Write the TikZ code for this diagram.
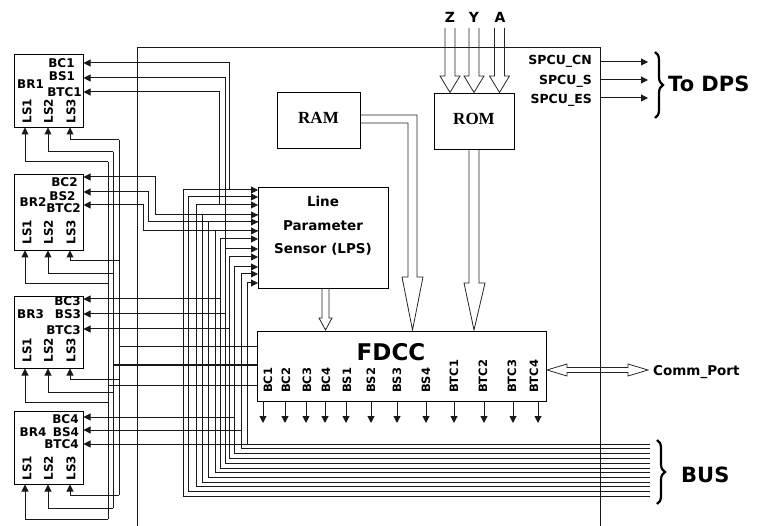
\documentclass[tikz,border=0pt]{standalone}
\usepackage{fontspec}
\setmainfont{DejaVu Sans}
\newfontfamily\serifb{Liberation Serif}
\usetikzlibrary{arrows.meta,decorations.pathreplacing}
\begin{document}
\begin{tikzpicture}[x=1pt,y=-1pt,
  w/.style={line width=1pt, draw=black!90},
  ar/.style={w, -{Triangle[length=7pt,width=7pt]}},
  box/.style={draw=black, line width=1.1pt, anchor=north west, inner sep=0pt},
  lab/.style={font=\bfseries\fontsize{12}{12}\selectfont, inner sep=0pt},
  rlab/.style={font=\bfseries\fontsize{11.5}{11.5}\selectfont, inner sep=0pt, rotate=90},
  hol/.style={draw=black!85, line width=0.8pt, line join=miter},
  brc/.style={decorate, decoration={brace, amplitude=8pt}, line width=2.2pt}
]
\useasboundingbox (0,0) rectangle (760,526);

% enclosure
\draw[w] (137,526) -- (137,48) -- (600,48) -- (600,526);

% BR boxes
\node[box, minimum width=69pt, minimum height=73pt] (br1) at (14,54) {};
\node[box, minimum width=69pt, minimum height=76pt] (br2) at (14,174) {};
\node[box, minimum width=69pt, minimum height=72pt] (br3) at (14,296) {};
\node[box, minimum width=69pt, minimum height=73pt] (br4) at (14,411) {};

% BR labels
\node[lab] at (61.5,63) {BC1};
\node[lab] at (62,76) {BS1};
\node[lab] at (64.5,92) {BTC1};
\node[lab] at (30.5,84) {BR1};
\node[lab] at (64.5,182) {BC2};
\node[lab] at (62.5,196) {BS2};
\node[lab] at (63.5,208) {BTC2};
\node[lab] at (33,202) {BR2};
\node[lab] at (67.5,301) {BC3};
\node[lab] at (68,314) {BS3};
\node[lab] at (63.5,330) {BTC3};
\node[lab] at (30.5,314) {BR3};
\node[lab] at (65.5,419) {BC4};
\node[lab] at (66,432) {BS4};
\node[lab] at (61.5,444.5) {BTC4};
\node[lab] at (33,432) {BR4};
\foreach \yy in {111,232,350,468}{
  \node[lab, rotate=90] at (27,\yy) {LS1};
  \node[lab, rotate=90] at (48.5,\yy) {LS2};
  \node[lab, rotate=90] at (71,\yy) {LS3};
}

% LS feedback lines
\draw[w] (108,162) -- (108,519);
\draw[w] (113,152) -- (113,508);
\draw[w] (119,140) -- (119,495);
\foreach \bot/\a/\b/\c in {127/140/152/162, 250/261/274/284, 368/379/392/402, 484/495/508/519}{
  \draw[ar] (119,\a) -- (70,\a) -- (70,\bot+0.5);
  \draw[ar] (113,\b) -- (48,\b) -- (48,\bot+0.5);
  \draw[ar] (108,\c) -- (25,\c) -- (25,\bot+0.5);
}

% LPS
\node[box, minimum width=130pt, minimum height=101pt] (lps) at (258,187) {};
\node[align=center, inner sep=0pt, font=\bfseries\fontsize{13.5}{23.5}\selectfont] at (323,226) {Line\\Parameter\\Sensor (LPS)};

% FDCC
\node[box, minimum width=289pt, minimum height=70pt] (fdcc) at (257,331) {};
\node[inner sep=0pt, font=\bfseries\fontsize{23}{23}\selectfont] at (391,352) {FDCC};
\foreach \xx/\tt in {268/BC1,286/BC2,307/BC3,326/BC4,347/BS1,371/BS2,397/BS3,426/BS4,454/BTC1,483/BTC2,512/BTC3,534/BTC4}{
  \node[rlab, anchor=west] at (\xx,393) {\tt};
}
\foreach \xx in {263,285,306,325,346,371,397,426,454,484,513,538}{
  \draw[ar] (\xx,401) -- (\xx,423);
}
\draw[w] (119,347) -- (257,347);
\draw[w] (113,365) -- (257,365);
\draw[w] (108,385) -- (257,385);

% bus lines
\foreach \xx/\yb/\yl in {183/496/190,188/491/197,196/486/205,202/482/215,208/477/222,215/472/231,220/468/239,225/463/249,229/458/257,234/453/267,241/448/274,247/444/283}{
  \draw[w] (650,\yb) -- (\xx,\yb) -- (\xx,\yl);
  \draw[ar] (\xx,\yl) -- (258,\yl);
}

% BR1 signals
\draw[ar] (229,190) -- (229,63) -- (83.5,63);
\draw[ar] (225,249) -- (225,78) -- (83.5,78);
\draw[ar] (219,205) -- (219,92) -- (83.5,92);
% BR2 signals
\draw[ar] (258,215) -- (155,215) -- (155,177) -- (83.5,177);
\draw[ar] (258,222) -- (148,222) -- (148,192) -- (83.5,192);
\draw[ar] (258,231) -- (143,231) -- (143,205) -- (83.5,205);
% BR3 signals
\draw[ar] (220,299) -- (83.5,299);
\draw[ar] (225,314) -- (83.5,314);
\draw[ar] (229,329) -- (83.5,329);
% BR4 signals
\draw[ar] (234,417) -- (83.5,417);
\draw[ar] (241,430) -- (83.5,430);
\draw[ar] (247,444) -- (83.5,444);

% RAM / ROM
\node[box, minimum width=83pt, minimum height=56pt] (ram) at (277,92) {};
\node[inner sep=0pt, font=\serifb\bfseries\fontsize{17}{17}\selectfont] at (318.5,118) {RAM};
\node[box, minimum width=80pt, minimum height=56pt] (rom) at (434,93) {};
\node[inner sep=0pt, font=\serifb\bfseries\fontsize{17}{17}\selectfont] at (474,119) {ROM};

% hollow arrows
\draw[hol] (360,115) -- (417,115) -- (417,277) -- (423,277) -- (412.5,330) -- (402,277) -- (408,277) -- (408,123) -- (360,123);
\draw[hol] (469,149) -- (469,283) -- (464,283) -- (474,330) -- (485,283) -- (479,283) -- (479,149);
\draw[hol] (322,288) -- (322,318) -- (319,318) -- (325.5,330) -- (332,318) -- (329,318) -- (329,288);
\foreach \xx in {450,474,499.5}{
  \draw[hol] (\xx-5,28) -- (\xx-5,76) -- (\xx-10,76) -- (\xx,92.5) -- (\xx+10,76) -- (\xx+5,76) -- (\xx+5,28);
}
\node[inner sep=0pt, font=\bfseries\fontsize{14}{14}\selectfont] at (450,17) {Z};
\node[inner sep=0pt, font=\bfseries\fontsize{14}{14}\selectfont] at (474,17) {Y};
\node[inner sep=0pt, font=\bfseries\fontsize{14}{14}\selectfont] at (500,17) {A};

% Comm port
\draw[hol] (547,370) -- (567,364) -- (567,367.5) -- (628,367.5) -- (628,364) -- (648,370) -- (628,376) -- (628,372.5) -- (567,372.5) -- (567,376) -- cycle;
\node[inner sep=0pt, anchor=west, font=\bfseries\fontsize{13.5}{13.5}\selectfont] at (653,372) {Comm\_Port};

% SPCU outputs
\node[inner sep=0pt, anchor=east, font=\bfseries\fontsize{12.5}{12.5}\selectfont] at (592,61) {SPCU\_CN};
\node[inner sep=0pt, anchor=east, font=\bfseries\fontsize{12.5}{12.5}\selectfont] at (592,81) {SPCU\_S};
\node[inner sep=0pt, anchor=east, font=\bfseries\fontsize{12.5}{12.5}\selectfont] at (592,100) {SPCU\_ES};
\draw[ar] (600,62) -- (648,62);
\draw[ar] (600,80) -- (648,80);
\draw[ar] (600,98) -- (648,98);

% braces
\draw[brc] (655,52) -- (655,118);
\node[inner sep=0pt, anchor=west, font=\bfseries\fontsize{21}{21}\selectfont] at (668,84) {To DPS};
\draw[brc] (657,440) -- (657,504);
\node[inner sep=0pt, anchor=west, font=\bfseries\fontsize{21}{21}\selectfont] at (681,475) {BUS};
\end{tikzpicture}
\end{document}
